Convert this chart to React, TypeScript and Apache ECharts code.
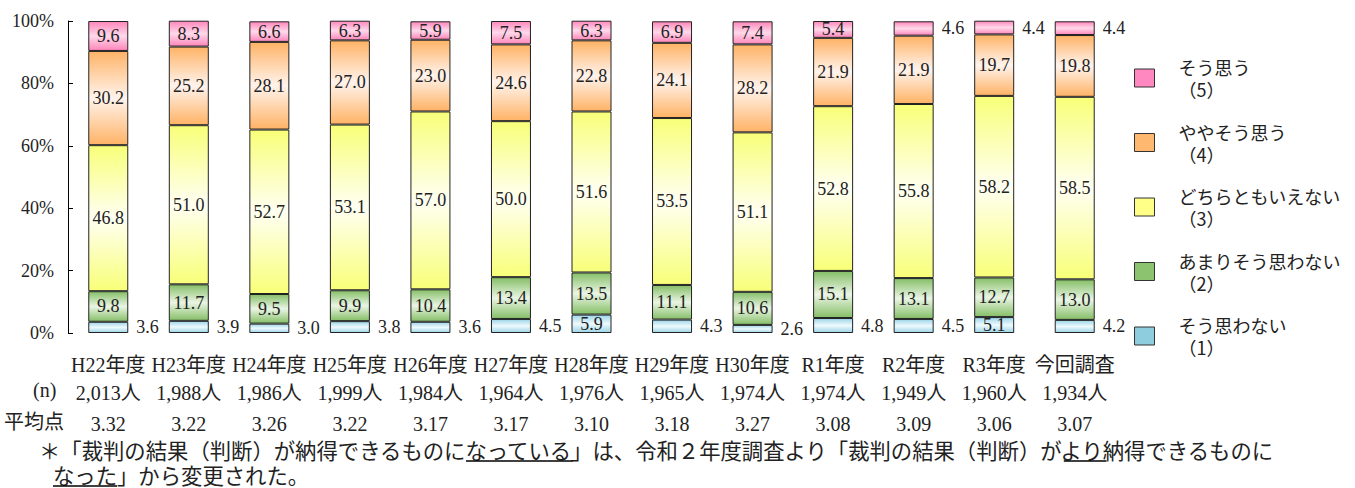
import React, { useEffect, useRef } from 'react';
import * as echarts from 'echarts';

const categories = ['H22年度', 'H23年度', 'H24年度', 'H25年度', 'H26年度', 'H27年度', 'H28年度', 'H29年度', 'H30年度', 'R1年度', 'R2年度', 'R3年度', '今回調査'];
const nValues = ['2,013人', '1,988人', '1,986人', '1,999人', '1,984人', '1,964人', '1,976人', '1,965人', '1,974人', '1,974人', '1,949人', '1,960人', '1,934人'];
const avgValues = ['3.32', '3.22', '3.26', '3.22', '3.17', '3.17', '3.10', '3.18', '3.27', '3.08', '3.09', '3.06', '3.07'];

const sou_omowanai = [3.6, 3.9, 3.0, 3.8, 3.6, 4.5, 5.9, 4.3, 2.6, 4.8, 4.5, 5.1, 4.2];
const amari = [9.8, 11.7, 9.5, 9.9, 10.4, 13.4, 13.5, 11.1, 10.6, 15.1, 13.1, 12.7, 13.0];
const dochira = [46.8, 51.0, 52.7, 53.1, 57.0, 50.0, 51.6, 53.5, 51.1, 52.8, 55.8, 58.2, 58.5];
const yaya = [30.2, 25.2, 28.1, 27.0, 23.0, 24.6, 22.8, 24.1, 28.2, 21.9, 21.9, 19.7, 19.8];
const sou_omou = [9.6, 8.3, 6.6, 6.3, 5.9, 7.5, 6.3, 6.9, 7.4, 5.4, 4.6, 4.4, 4.4];

const seriesNames = ['そう思わない', 'あまりそう思わない', 'どちらともいえない', 'ややそう思う', 'そう思う'];
const seriesCodes = ['（1）', '（2）', '（3）', '（4）', '（5）'];
const seriesValues = [sou_omowanai, amari, dochira, yaya, sou_omou];

const rowHeaderN = '(n)';
const rowHeaderAvg = '平均点';
const footLine1 = '＊「裁判の結果（判断）が納得できるものになっている」は、令和２年度調査より「裁判の結果（判断）がより納得できるものに';
const footLine2 = 'なった」から変更された。';
// [line, first char index, char count]
const underlines: [number, number, number][] = [[1, 20, 5], [1, 48, 2], [2, 0, 3]];

const edgeColors = ['#9dd5e8', '#86bf68', '#f8ff78', '#ffb366', '#ff86bb'];
const midColors = ['#eefafd', '#eaf5e4', '#fffff2', '#fff3ec', '#ffd9ea'];
const legendColors = ['#8ecddd', '#8cc36e', '#ffff88', '#ffb870', '#ff88c0'];

export default function App() {
  const ref = useRef<HTMLDivElement>(null);
  useEffect(() => {
    document.body.style.margin = '0';
    if (!ref.current) return;
    const chart = echarts.init(ref.current, undefined, { renderer: 'svg' });
    const serif = "'Liberation Serif', 'Noto Sans CJK JP', serif";
    const jp = "'Noto Sans CJK JP', sans-serif";

    const series = seriesValues.map((vals, si) => ({
      name: seriesNames[si],
      type: 'bar',
      stack: 'total',
      barWidth: 40,
      itemStyle: {
        color: new echarts.graphic.LinearGradient(0, 0, 0, 1, [
          { offset: 0, color: edgeColors[si] },
          { offset: 0.5, color: midColors[si] },
          { offset: 1, color: edgeColors[si] },
        ]),
        borderColor: '#222',
        borderWidth: 1,
      },
      label: {
        show: true,
        position: 'inside',
        fontFamily: serif,
        fontSize: 18,
        color: '#222',
        formatter: (p: any) => Number(p.value).toFixed(1),
      },
      data: vals.map((v) =>
        v < 5
          ? { value: v, label: { position: 'right', distance: 8 } }
          : { value: v }
      ),
    }));

    const footSize = 21.35;
    const foot1X = 39;
    const foot2X = 53;
    const graphic: any[] = [
      { type: 'text', left: 33, top: 380, style: { text: rowHeaderN, font: `20px ${serif}`, fill: '#222' } },
      { type: 'text', left: 4, top: 412, style: { text: rowHeaderAvg, font: `20px ${serif}`, fill: '#222' } },
      { type: 'text', x: foot1X, y: 449, style: { text: footLine1, font: `${footSize}px ${jp}`, fill: '#222', verticalAlign: 'middle' } },
      { type: 'text', x: foot2X, y: 474, style: { text: footLine2, font: `${footSize}px ${jp}`, fill: '#222', verticalAlign: 'middle' } },
      ...underlines.map(([line, start, count]) => {
        const x0 = (line === 1 ? foot1X : foot2X) + start * footSize;
        const y = line === 1 ? 461 : 486;
        return {
          type: 'line',
          shape: { x1: x0, y1: y, x2: x0 + count * footSize, y2: y },
          style: { stroke: '#000', lineWidth: 1.5 },
        };
      }),
    ];

    chart.setOption({
      animation: false,
      grid: { left: 68, right: 240, top: 21, bottom: 155, containLabel: false },
      xAxis: {
        type: 'category',
        data: categories,
        axisLine: { show: false },
        axisTick: { show: false },
        axisLabel: {
          interval: 0,
          margin: 18,
          formatter: (v: string, i: number) => `{a|${v}}\n{b|${nValues[i]}}\n{c|${avgValues[i]}}`,
          rich: {
            a: { fontFamily: serif, fontSize: 20, lineHeight: 28, color: '#222' },
            b: { fontFamily: serif, fontSize: 20, lineHeight: 27, color: '#222' },
            c: { fontFamily: serif, fontSize: 20, lineHeight: 35, color: '#222' },
          },
        },
      },
      yAxis: {
        type: 'value',
        min: 0,
        max: 100,
        interval: 20,
        axisLine: { show: true, lineStyle: { color: '#000', width: 1 } },
        axisTick: { show: true, inside: true, length: 5, lineStyle: { color: '#000' } },
        splitLine: { show: false },
        axisLabel: {
          formatter: '{value}%',
          fontFamily: serif,
          fontSize: 18,
          color: '#222',
          margin: 14,
        },
      },
      legend: {
        orient: 'vertical',
        left: 1134,
        top: 44,
        padding: 0,
        itemWidth: 20,
        itemHeight: 18,
        itemGap: -3.5,
        icon: 'rect',
        selectedMode: false,
        itemStyle: { borderColor: '#333', borderWidth: 1 },
        textStyle: { fontFamily: jp, fontSize: 18, lineHeight: 22, color: '#222', padding: [24, 0, 0, 19] },
        formatter: (name: string) => `${name}\n${seriesCodes[seriesNames.indexOf(name)]}`,
        data: [4, 3, 2, 1, 0].map((i) => ({ name: seriesNames[i], itemStyle: { color: legendColors[i] } })),
      },
      graphic,
      series,
    });
    return () => chart.dispose();
  }, []);
  return <div ref={ref} style={{ width: 1355, height: 488 }} />;
}
